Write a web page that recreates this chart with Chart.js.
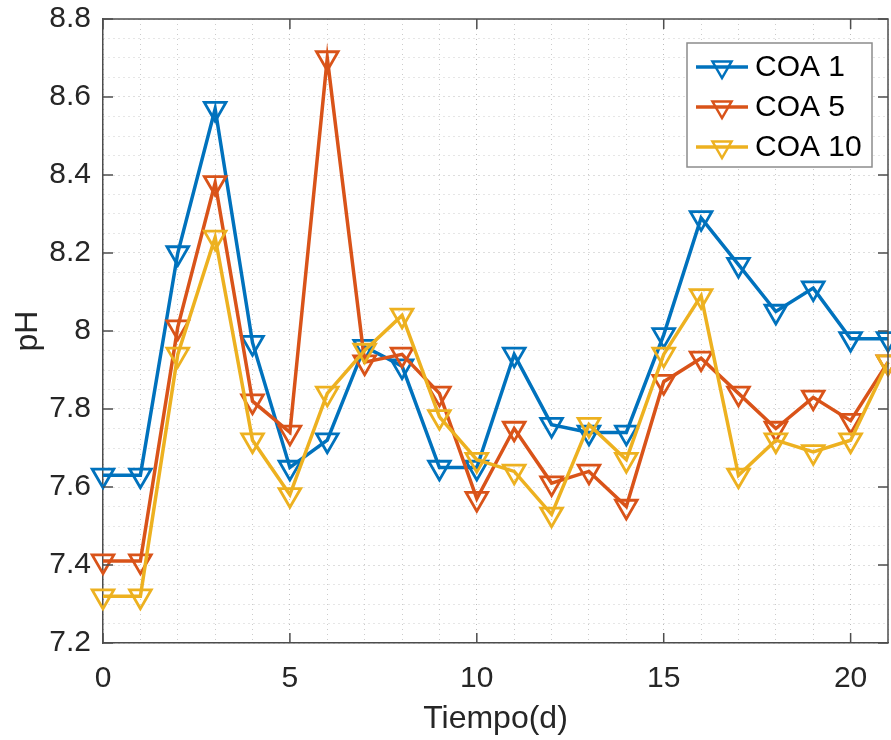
<!DOCTYPE html>
<html>
<head>
<meta charset="utf-8">
<script src="https://cdn.jsdelivr.net/npm/chart.js@4/dist/chart.umd.min.js"></script>
<style>
  html, body { margin: 0; padding: 0; background: #fff; }
  #wrap { width: 891px; height: 740px; }
</style>
</head>
<body>
<div id="wrap"><canvas id="phChart" width="891" height="740"></canvas></div>
<script>
// ---- data ----
const days = [0,1,2,3,4,5,6,7,8,9,10,11,12,13,14,15,16,17,18,19,20,21];
const seriesNames = ["COA 1", "COA 5", "COA 10"];
const coa1 = [7.63,7.63,8.20,8.57,7.97,7.65,7.72,7.96,7.91,7.65,7.65,7.94,7.76,7.74,7.74,7.99,8.29,8.17,8.05,8.11,7.98,7.98];
const coa5 = [7.41,7.41,8.01,8.38,7.82,7.74,8.70,7.92,7.94,7.84,7.57,7.75,7.61,7.64,7.55,7.87,7.93,7.84,7.75,7.83,7.77,7.92];
const coa10 = [7.32,7.32,7.94,8.24,7.72,7.58,7.84,7.95,8.04,7.78,7.67,7.64,7.53,7.76,7.67,7.94,8.09,7.63,7.72,7.69,7.72,7.92];
const xMajorTicks = [0,5,10,15,20];
const yMajorTicks = [7.2,7.4,7.6,7.8,8.0,8.2,8.4,8.6,8.8];

const colors = ["#0072BD", "#D95319", "#EDB120"];
const FONT = "'Liberation Sans', Arial, Helvetica, sans-serif";
const TXT = "#262626";

function toPoints(arr) {
    return arr.map((v, i) => ({ x: days[i], y: v }));
}

function isMajorY(v) {
    return yMajorTicks.some(t => Math.abs(t - v) < 1e-6);
}

// ================= FRAME + INWARD TICKS + LEGEND =================
const matlabAxes = {
    id: "matlabAxes",
    afterDraw(chart) {
        const ctx = chart.ctx;
        const a = chart.chartArea;
        const xs = chart.scales.x;
        const ys = chart.scales.y;
        const tl = 10;

        ctx.save();
        ctx.strokeStyle = "#4d4d4d";
        ctx.lineWidth = 1.5;
        ctx.beginPath();
        ctx.moveTo(a.left, a.top);
        ctx.lineTo(a.right, a.top);
        ctx.lineTo(a.right, a.bottom);
        ctx.stroke();

        ctx.beginPath();
        xMajorTicks.forEach(t => {
            const px = xs.getPixelForValue(t);
            ctx.moveTo(px, a.bottom); ctx.lineTo(px, a.bottom - tl);
            ctx.moveTo(px, a.top); ctx.lineTo(px, a.top + tl);
        });
        yMajorTicks.forEach(t => {
            const py = ys.getPixelForValue(t);
            ctx.moveTo(a.left, py); ctx.lineTo(a.left + tl, py);
            ctx.moveTo(a.right, py); ctx.lineTo(a.right - tl, py);
        });
        ctx.stroke();

        // legend box
        const bx = 687, by = 43, bw = 185, bh = 124;
        ctx.fillStyle = "#fff";
        ctx.fillRect(bx, by, bw, bh);
        ctx.strokeStyle = "#8c8c8c";
        ctx.lineWidth = 1.5;
        ctx.strokeRect(bx, by, bw, bh);

        ctx.font = "30px " + FONT;
        ctx.textBaseline = "middle";
        chart.data.datasets.forEach((ds, i) => {
            const cy = by + 24 + i * 40;
            ctx.strokeStyle = ds.borderColor;
            ctx.lineWidth = 3.5;
            ctx.beginPath();
            ctx.moveTo(bx + 9, cy);
            ctx.lineTo(bx + 61, cy);
            ctx.stroke();
            // downward triangle marker
            const mx = bx + 35, r = 11;
            ctx.lineWidth = 2.5;
            ctx.beginPath();
            ctx.moveTo(mx - r * 0.866, cy - r * 0.5);
            ctx.lineTo(mx + r * 0.866, cy - r * 0.5);
            ctx.lineTo(mx, cy + r);
            ctx.closePath();
            ctx.stroke();
            ctx.fillStyle = "#000";
            ctx.fillText(ds.label, bx + 68, cy + 1);
        });
        ctx.restore();
    }
};

function makeDataset(i, arr) {
    return {
        label: seriesNames[i],
        data: toPoints(arr),
        borderColor: colors[i],
        backgroundColor: colors[i],
        borderWidth: 3.5,
        pointStyle: "triangle",
        rotation: 180,
        pointRadius: 12.5,
        pointHoverRadius: 12.5,
        pointBorderWidth: 2.8,
        pointBackgroundColor: "rgba(0,0,0,0)",
        pointBorderColor: colors[i],
        tension: 0,
        clip: false,
        order: 3 - i
    };
}

new Chart(document.getElementById("phChart"), {
    type: "line",
    data: {
        datasets: [
            makeDataset(0, coa1),
            makeDataset(1, coa5),
            makeDataset(2, coa10)
        ]
    },
    options: {
        responsive: false,
        devicePixelRatio: 1,
        animation: false,
        layout: { autoPadding: false, padding: { top: 19, right: 3, left: 0, bottom: 0 } },
        plugins: {
            legend: { display: false },
            tooltip: { enabled: false }
        },
        scales: {
            x: {
                type: "linear",
                min: 0,
                max: 21,
                afterFit: s => {
                    s.height = 97;
                    s.paddingLeft = 0;
                    s.paddingRight = 0;
                },
                ticks: {
                    stepSize: 1,
                    autoSkip: false,
                    maxRotation: 0,
                    padding: 18,
                    color: TXT,
                    font: { family: FONT, size: 30 },
                    callback: v => (xMajorTicks.includes(v) ? String(v) : "")
                },
                grid: {
                    drawTicks: false,
                    lineWidth: 1,
                    color: c => (xMajorTicks.includes(c.tick.value) ? "#bdbdbd" : "#cccccc")
                },
                border: { display: true, color: "#4d4d4d", width: 1.5, dash: [1, 4] },
                title: {
                    display: true,
                    text: "Tiempo(d)",
                    color: TXT,
                    font: { family: FONT, size: 32 },
                    padding: { top: 0, bottom: 2 }
                }
            },
            y: {
                min: 7.2,
                max: 8.8,
                afterFit: s => {
                    s.width = 103;
                    s.paddingTop = 0;
                    s.paddingBottom = 0;
                },
                ticks: {
                    stepSize: 0.05,
                    autoSkip: false,
                    padding: 12,
                    color: TXT,
                    font: { family: FONT, size: 30 },
                    callback: v => (isMajorY(v) ? String(+v.toFixed(1)) : "")
                },
                grid: {
                    drawTicks: false,
                    lineWidth: 1,
                    color: c => (isMajorY(c.tick.value) ? "#bdbdbd" : "#cccccc")
                },
                border: { display: true, color: "#4d4d4d", width: 1.5, dash: [1, 4] },
                title: {
                    display: true,
                    text: "pH",
                    color: TXT,
                    font: { family: FONT, size: 32 },
                    padding: { top: 9, bottom: 0 }
                }
            }
        }
    },
    plugins: [matlabAxes]
});
</script>
</body>
</html>
